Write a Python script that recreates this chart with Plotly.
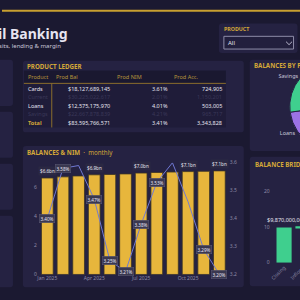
import plotly.graph_objects as go

# ---------------- data ----------------
months = ["Jan 2025", "Feb 2025", "Mar 2025", "Apr 2025", "May 2025", "Jun 2025",
          "Jul 2025", "Aug 2025", "Sep 2025", "Oct 2025", "Nov 2025", "Dec 2025"]
balances_bn = [6.64, 6.72, 6.78, 6.86, 6.88, 6.92, 6.98, 7.02, 7.05, 7.08, 7.10, 7.13]
nim_pct = [3.40, 3.58, 3.59, 3.47, 3.25, 3.21, 3.38, 3.53, 3.60, 3.46, 3.29, 3.20]
bal_label_months = ["Jan 2025", "Apr 2025", "Jul 2025", "Oct 2025", "Dec 2025"]
nim_label_months = ["Jan 2025", "Feb 2025", "Apr 2025", "May 2025", "Jun 2025",
                    "Jul 2025", "Aug 2025", "Nov 2025", "Dec 2025"]
month_ticks = ["Jan 2025", "Apr 2025", "Jul 2025", "Oct 2025"]
bal_ticks = [0, 2, 4, 6]
nim_ticks = [3.2, 3.3, 3.4, 3.5, 3.6]

products = ["Cards", "Current", "Loans", "Savings"]
prod_bal = [18127689145, 30225022617, 12575175970, 22667878839]
prod_nim = [3.61, 2.01, 4.01, 4.21]
prod_acc = [724905, 1150201, 503005, 965717]
prod_highlight = [True, False, True, False]
total_bal = 83595766571
total_nim = 3.41
total_acc = 3343828
ledger_headers = ["Product", "Prod Bal", "Prod NIM", "Prod Acc."]

pie_colors = ["#e7b63c", "#5b8def", "#9c72e5", "#3fcf8e"]

bridge_steps = ["Closing", "Inflows"]
bridge_bn = [9.87, 0.35]
bridge_measure = ["absolute", "relative"]
bridge_ticks = [0, 10, 20]

# ---------------- style / layout helpers ----------------
W, H = 400, 300
def fx(x): return x / W
def fy(y): return 1 - y / H

BG = "#1b1931"
PANEL = "#252242"
T_BODY = "#1f1c39"
T_HEAD = "#1a1830"
GOLD = "#d4a838"
BAR = "#e7b63c"
LINE = "#7079d3"
GREEN = "#3fcf8e"
TXT = "#e6e4f0"
MUTED = "#8d8aa6"
DIM = "#3a3758"
FONT = "Noto Sans"

def rrect(x0, y0, x1, y1, r=3, fill=PANEL, line_color=None, lw=0):
    P = lambda x, y: f"{fx(x):.5f},{fy(y):.5f}"
    path = (f"M {P(x0+r,y0)} L {P(x1-r,y0)} Q {P(x1,y0)} {P(x1,y0+r)} "
            f"L {P(x1,y1-r)} Q {P(x1,y1)} {P(x1-r,y1)} L {P(x0+r,y1)} "
            f"Q {P(x0,y1)} {P(x0,y1-r)} L {P(x0,y0+r)} Q {P(x0,y0)} {P(x0+r,y0)} Z")
    return dict(type="path", path=path, xref="paper", yref="paper", fillcolor=fill,
                line=dict(color=line_color or fill, width=lw), layer="below")

def pline(x0, y0, x1, y1, color, w=1):
    return dict(type="line", xref="paper", yref="paper", x0=fx(x0), y0=fy(y0),
                x1=fx(x1), y1=fy(y1), line=dict(color=color, width=w), layer="below")

def note(text, x, y, size, color, xanchor="left", **kw):
    return dict(text=text, x=fx(x), y=fy(y), xref="paper", yref="paper", showarrow=False,
                xanchor=xanchor, yanchor="middle", font=dict(size=size, color=color, family=FONT), **kw)

shapes = []
# gold top rule
shapes.append(dict(type="rect", xref="paper", yref="paper", x0=0, x1=1, y0=fy(9), y1=fy(7),
                   fillcolor="#c9a030", line=dict(width=0), layer="below"))
# left KPI cards
for (a, b) in [(58, 105), (111, 158), (164, 211), (217, 290)]:
    shapes.append(rrect(-10, a, 11, b))
# panels
shapes.append(rrect(21, 59, 243, 132))
shapes.append(rrect(21, 146, 243, 290))
shapes.append(rrect(249, 58, 400, 151))
shapes.append(rrect(249, 157, 400, 289))
shapes.append(rrect(218, 21, 297, 51))
# dropdown box
shapes.append(dict(type="rect", xref="paper", yref="paper", x0=fx(223), x1=fx(293), y0=fy(47), y1=fy(34),
                   fillcolor="#221f3d", line=dict(color="#8e8ca8", width=1), layer="below"))
shapes.append(dict(type="path", xref="paper", yref="paper",
                   path=f"M {fx(285.5)},{fy(39.5)} L {fx(288.5)},{fy(42.5)} L {fx(291.5)},{fy(39.5)}",
                   line=dict(color="#b9b7cc", width=1)))
# ledger table background
shapes.append(dict(type="rect", xref="paper", yref="paper", x0=fx(22), x1=fx(225), y0=fy(82), y1=fy(69),
                   fillcolor=T_HEAD, line=dict(width=0), layer="below"))
shapes.append(dict(type="rect", xref="paper", yref="paper", x0=fx(22), x1=fx(225), y0=fy(127), y1=fy(82),
                   fillcolor=T_BODY, line=dict(width=0), layer="below"))
shapes.append(pline(22, 82, 225, 82, "#8a6d2c", 1))
shapes.append(pline(50, 82, 50, 127, "#8a6d2c", 1))

annotations = [
    note("<b>Retail Banking</b>", 68, 31.5, 14, TXT, xanchor="right"),
    note("Deposits, lending & margin", 61, 44, 6, "#c9c7d9", xanchor="right"),
    note("<b>PRODUCT LEDGER</b>", 23, 65, 6.2, GOLD),
    note("<b>BALANCES & NIM</b>  ·  monthly", 23, 153, 6.2, GOLD),
    note("<b>BALANCES BY PRODUCT</b>", 251, 64, 6.2, GOLD),
    note("<b>BALANCE BRIDGE</b>", 252, 165, 6.2, GOLD),
    note("<b>PRODUCT</b>", 221, 27, 5.3, GOLD),
    note("All", 225, 41, 6, TXT),
]

# ---------------- ledger table (text on a hidden grid axis) ----------------
row_names = products + ["<b>Total</b>"]
bal_txt = [f"${v:,.0f}" for v in prod_bal] + [f"${total_bal:,.0f}"]
nim_txt = [f"{v:.2f}%" for v in prod_nim] + [f"{total_nim:.2f}%"]
acc_txt = [f"{v:,.0f}" for v in prod_acc] + [f"{total_acc:,.0f}"]
row_col = [TXT if h else DIM for h in prod_highlight] + [TXT]
name_col = [TXT if h else DIM for h in prod_highlight] + [GOLD]
col_x = [2, 89, 147, 201]
col_anchor = ["left", "right", "right", "right"]
head_x = [2, 30, 92, 149]
for hx, htxt in zip(head_x, ledger_headers):
    annotations.append(dict(text=htxt, x=hx, y=6.5, xref="x4", yref="y4", showarrow=False,
                            xanchor="left", yanchor="middle",
                            font=dict(size=5.5, color="#b8953c", family=FONT)))
for ci, col in enumerate([row_names, bal_txt, nim_txt, acc_txt]):
    for ri, t in enumerate(col):
        annotations.append(dict(text=t, x=col_x[ci], y=18.3 + 8.75 * ri, xref="x4", yref="y4",
                                showarrow=False, xanchor=col_anchor[ci], yanchor="middle",
                                font=dict(size=5.5, color=(name_col if ci == 0 else row_col)[ri],
                                          family=FONT)))

# ---------------- monthly chart labels ----------------
for m in bal_label_months:
    v = balances_bn[months.index(m)]
    annotations.append(dict(text=f"${v:.1f}bn", x=m, y=v, xref="x", yref="y", showarrow=False,
                            yanchor="bottom", yshift=2, bgcolor="#2b2843",
                            font=dict(size=4.6, color=TXT, family=FONT), borderpad=1))
for m in nim_label_months:
    v = nim_pct[months.index(m)]
    annotations.append(dict(text=f"{v:.2f}%", x=m, y=v, xref="x", yref="y2", showarrow=False,
                            yanchor="middle", bgcolor="#3a3850", bordercolor="#5b5874", borderwidth=0.5,
                            font=dict(size=4.6, color=TXT, family=FONT), borderpad=1))

# ---------------- bridge label ----------------
annotations.append(dict(text=f"${bridge_bn[0]*1e9:,.0f}", x=bridge_steps[0], y=bridge_bn[0],
                        xref="x3", yref="y3", showarrow=False, yanchor="bottom", xanchor="center",
                        yshift=1, xshift=2, font=dict(size=5.5, color=TXT, family=FONT)))

fig = go.Figure()
fig.add_trace(go.Bar(x=months, y=balances_bn, marker=dict(color=BAR, line=dict(color="#3b3424", width=0.8)),
                     xaxis="x", yaxis="y", hoverinfo="skip"))
fig.add_trace(go.Scatter(x=months, y=nim_pct, mode="lines", line=dict(color=LINE, width=1),
                         xaxis="x", yaxis="y2", hoverinfo="skip"))
fig.add_trace(go.Waterfall(x=bridge_steps, y=bridge_bn, measure=bridge_measure,
                           textposition="none",
                           increasing=dict(marker=dict(color=GREEN)),
                           decreasing=dict(marker=dict(color="#e0607a")),
                           totals=dict(marker=dict(color=GREEN)),
                           connector=dict(visible=False), xaxis="x3", yaxis="y3", hoverinfo="skip"))
fig.add_trace(go.Pie(labels=products, values=prod_bal, sort=False, direction="clockwise",
                     marker=dict(colors=pie_colors, line=dict(color=PANEL, width=1)),
                     textinfo="label", textposition="outside",
                     textfont=dict(size=5.5, color="#c8c6d8", family=FONT),
                     domain=dict(x=[fx(288.5), fx(377.5)], y=[fy(150), fy(61)]),
                     hoverinfo="skip", showlegend=False))
# invisible carrier for ledger axis
fig.add_trace(go.Scatter(x=[0, 203], y=[0, 58], mode="markers", marker=dict(opacity=0),
                         xaxis="x4", yaxis="y4", hoverinfo="skip"))

tick_font = dict(size=5, color=MUTED, family=FONT)
fig.update_layout(
    width=W, height=H, margin=dict(l=0, r=0, t=0, b=0),
    paper_bgcolor=BG, plot_bgcolor="rgba(0,0,0,0)", showlegend=False,
    font=dict(family=FONT, color=TXT), bargap=0.25,
    shapes=shapes, annotations=annotations,
    xaxis=dict(domain=[fx(36), fx(228)], type="category", tickvals=month_ticks, ticks="",
               showgrid=False, zeroline=False, showline=False, tickfont=tick_font, anchor="y"),
    yaxis=dict(domain=[fy(277), fy(163)], range=[0, 7.69], tickvals=bal_ticks, tickprefix="$",
               ticksuffix="bn", showgrid=False, zeroline=False, tickfont=tick_font, anchor="x"),
    yaxis2=dict(overlaying="y", side="right", range=[3.2, 3.6], tickvals=nim_ticks, tickformat=".1f",
                ticksuffix="%", showgrid=False, zeroline=False, tickfont=tick_font, anchor="x"),
    xaxis3=dict(domain=[fx(270), fx(308)], range=[-0.71, 1.29], type="category", tickangle=-45,
                ticks="", showgrid=False, zeroline=False, tickfont=tick_font, anchor="y3"),
    yaxis3=dict(domain=[fy(265), fy(180)], range=[0, 23.3], tickvals=bridge_ticks, tickprefix="$",
                ticksuffix="bn", showgrid=False, zeroline=False, tickfont=tick_font, anchor="x3"),
    xaxis4=dict(domain=[fx(22), fx(225)], range=[0, 203], visible=False, anchor="y4"),
    yaxis4=dict(domain=[fy(127), fy(69)], range=[58, 0], visible=False, anchor="x4"),
)
fig.write_html("out.html")
